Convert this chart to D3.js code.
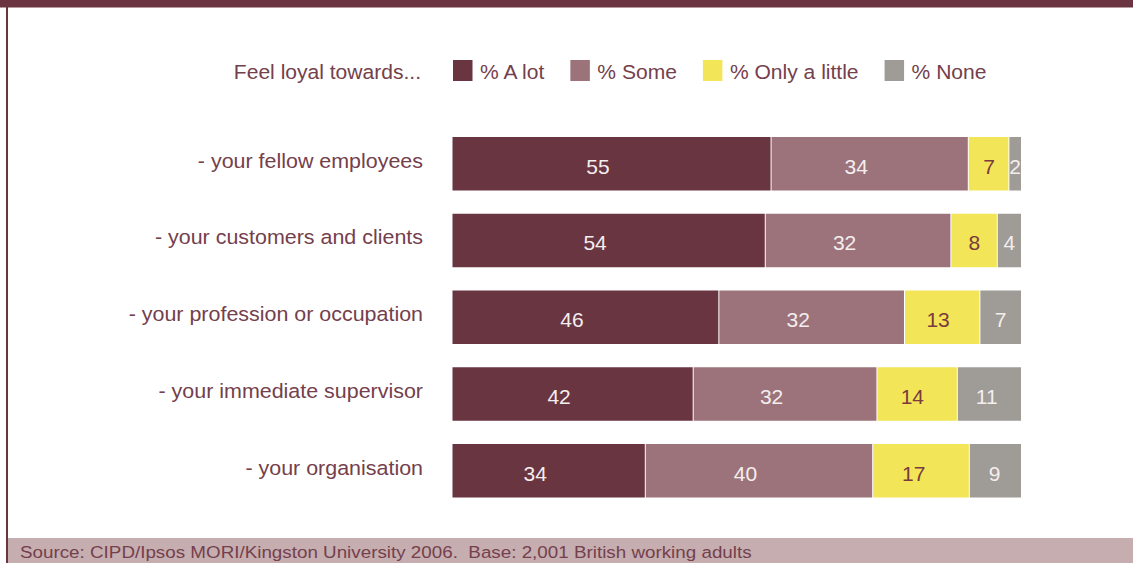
<!DOCTYPE html>
<html>
<head>
<meta charset="utf-8">
<script src="https://cdn.jsdelivr.net/npm/d3@7"></script>
<style>
  html, body { margin: 0; padding: 0; background: #ffffff; }
  svg { display: block; }
  text { font-family: "Liberation Sans", Arial, Helvetica, sans-serif; white-space: pre; }
</style>
</head>
<body>
<svg id="chart" width="1133" height="563"></svg>
<script>
// Survey: how loyal working adults feel towards groups at work
const categories = [
  "- your fellow employees",
  "- your customers and clients",
  "- your profession or occupation",
  "- your immediate supervisor",
  "- your organisation"
];
const seriesNames = ["% A lot", "% Some", "% Only a little", "% None"];
const aLot       = [55, 54, 46, 42, 34];
const some       = [34, 32, 32, 32, 40];
const onlyLittle = [7, 8, 13, 14, 17];
const none       = [2, 4, 7, 11, 9];
const legendTitle = "Feel loyal towards...";
const sourceNote = "Source: CIPD/Ipsos MORI/Kingston University 2006.  Base: 2,001 British working adults";

const colors = ["#693541", "#9c737a", "#f2e558", "#9f9b97"];
const labelColors = ["#f4eeee", "#f4eeee", "#7a3b3e", "#f4eeee"];
const textColor = "#74404c";

const W = 1133, H = 563;
const svg = d3.select("#chart");

// Text set in a slightly widened face: a group is scaled horizontally about the anchor point
function wideText(parent, x, y, str, size, anchor, sx, fill) {
  const g = parent.append("g").attr("transform", `translate(${x},${y}) scale(${sx},1)`);
  const t = g.append("text")
    .attr("x", 0).attr("y", 0)
    .attr("text-anchor", anchor)
    .attr("font-size", size)
    .attr("fill", fill)
    .text(str);
  return t.node().getComputedTextLength() * sx;
}

// Frame: top rule, left rule, source band
svg.append("rect").attr("x", 0).attr("y", 0).attr("width", W).attr("height", 7.5).attr("fill", "#6a3440");
svg.append("rect").attr("x", 6).attr("y", 0).attr("width", 2).attr("height", H).attr("fill", "#6a3440");
svg.append("rect").attr("x", 8).attr("y", 538).attr("width", W - 8).attr("height", H - 538).attr("fill", "#c6adb0");
wideText(svg, 20, 558, sourceNote, 16.5, "start", 1.14, "#74404c");

// Build rows
const rows = categories.map((c, i) => {
  const vals = [aLot[i], some[i], onlyLittle[i], none[i]];
  const total = d3.sum(vals);
  let acc = 0;
  const segs = vals.map((v, k) => {
    const s = { key: seriesNames[k], k, v, x0: acc, x1: acc + v, total };
    acc += v;
    return s;
  });
  return { category: c, segs };
});

const y = d3.scaleBand()
  .domain(categories)
  .range([137, 497.5])
  .paddingInner(0.303)
  .paddingOuter(0);

const xRange = [452.5, 1021];

// Category labels
const catG = svg.append("g");
categories.forEach(c => {
  wideText(catG, 423, y(c) + y.bandwidth() / 2 + 4, c, 19.5, "end", 1.1, textColor);
});

// Stacked bars, each row spanning its own total
const rowG = svg.append("g").selectAll("g")
  .data(rows)
  .join("g")
  .attr("transform", d => `translate(0,${y(d.category)})`);

rowG.each(function(row) {
  const x = d3.scaleLinear().domain([0, row.segs[0].total]).range(xRange);
  const g = d3.select(this);
  g.selectAll("rect")
    .data(row.segs)
    .join("rect")
    .attr("x", d => x(d.x0))
    .attr("y", 0)
    .attr("width", d => Math.max(0, x(d.x1) - x(d.x0) - (d.k < 3 ? 1 : 0)))
    .attr("height", y.bandwidth())
    .attr("fill", d => colors[d.k]);
  g.selectAll("text")
    .data(row.segs)
    .join("text")
    .attr("x", d => {
      const w = x(d.x1) - x(d.x0);
      const shift = Math.min(14, Math.max(0, (w - 45) * 0.15));
      return x(d.x0) + w / 2 - shift;
    })
    .attr("y", y.bandwidth() / 2 + 10)
    .attr("text-anchor", "middle")
    .attr("font-size", 21)
    .attr("fill", d => labelColors[d.k])
    .text(d => d.v);
});

// Legend
const legend = svg.append("g");
wideText(legend, 421, 79, legendTitle, 19.5, "end", 1.08, textColor);

let lx = 453;
seriesNames.forEach((name, k) => {
  legend.append("rect")
    .attr("x", lx).attr("y", 60)
    .attr("width", 19.5).attr("height", 21)
    .attr("fill", colors[k]);
  const len = wideText(legend, lx + 27, 79, name, 19.5, "start", 1.08, textColor);
  lx = lx + 27 + len + 26;
});
</script>
</body>
</html>
